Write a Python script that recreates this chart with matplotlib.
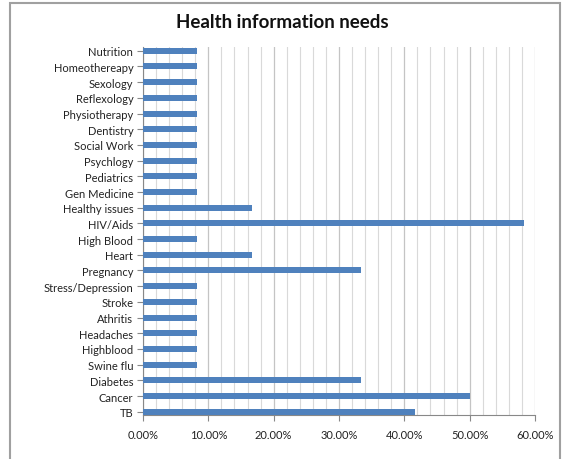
import matplotlib.pyplot as plt
from matplotlib.ticker import MultipleLocator, FuncFormatter
from matplotlib.patches import Rectangle

# categories listed top to bottom as in the chart
categories = ["Nutrition", "Homeothereapy", "Sexology", "Reflexology", "Physiotherapy",
              "Dentistry", "Social Work", "Psychlogy", "Pediatrics", "Gen Medicine",
              "Healthy issues", "HIV/Aids", "High Blood", "Heart", "Pregnancy",
              "Stress/Depression", "Stroke", "Athritis", "Headaches", "Highblood",
              "Swine flu", "Diabetes", "Cancer", "TB"]
values = [0.0833, 0.0833, 0.0833, 0.0833, 0.0833,
          0.0833, 0.0833, 0.0833, 0.0833, 0.0833,
          0.1667, 0.5833, 0.0833, 0.1667, 0.3333,
          0.0833, 0.0833, 0.0833, 0.0833, 0.0833,
          0.0833, 0.3333, 0.5000, 0.4167]

plt.rcParams['font.family'] = ['Lato', 'DejaVu Sans']

fig = plt.figure(figsize=(5.64, 4.6), dpi=100)
ax = fig.add_axes([143/564, 1 - 416/460, (535 - 143)/564, (416 - 48)/460])

bar_h = 0.38
pos = list(range(len(categories)))
ax.barh(pos, values, height=bar_h, color="#4F81BD", zorder=3)

ax.set_ylim(len(categories) - 1 + bar_h/2 + 0.02, -bar_h/2 - 0.05)
ax.set_yticks(pos)
ax.set_yticklabels(categories, fontsize=8, color="#222222")

ax.set_xlim(0, 0.6)
ax.xaxis.set_major_locator(MultipleLocator(0.1))
ax.xaxis.set_minor_locator(MultipleLocator(0.02))
ax.xaxis.set_major_formatter(FuncFormatter(lambda v, p: "%.2f%%" % (v * 100)))
ax.tick_params(axis='x', which='major', labelsize=8, labelcolor="#222222", color="#888888",
               length=4, pad=6)
ax.tick_params(axis='x', which='minor', length=0)
ax.tick_params(axis='y', color="#888888", length=4, pad=3)

ax.grid(axis='x', which='minor', color="#D9D9D9", linewidth=0.8, zorder=0)
ax.grid(axis='x', which='major', color="#C4C4C4", linewidth=0.9, zorder=0)

for side in ['top', 'right']:
    ax.spines[side].set_visible(False)
for side in ['left', 'bottom']:
    ax.spines[side].set_color("#888888")

fig.text(0.5, 1 - 22/460, "Health information needs", ha='center', va='center',
         fontsize=13.5, fontweight='bold', color="#111111")

# outer chart border
fig.patches.append(Rectangle((10/564, -0.05), (560 - 10)/564, 1 - 4/460 + 0.05,
                             transform=fig.transFigure, fill=False,
                             edgecolor="#A0A0A0", linewidth=1.5))

fig.savefig("out.png", dpi=100)
